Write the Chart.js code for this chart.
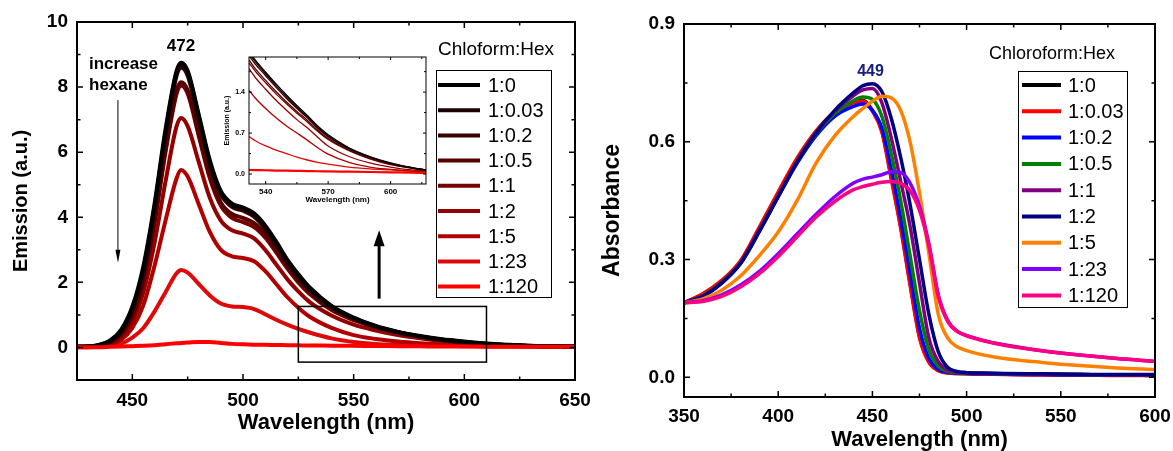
<!DOCTYPE html>
<html>
<head>
<meta charset="utf-8">
<script src="https://cdn.jsdelivr.net/npm/chart.js@4.4.1/dist/chart.umd.min.js"></script>
<style>
  body { margin: 0; background: #fff; width: 1173px; height: 451px; overflow: hidden; position: relative; }
  .box { position: absolute; }
</style>
</head>
<body>
<div class="box" style="left:0;top:0;width:600px;height:451px"><canvas id="em"></canvas></div>
<div class="box" style="left:590px;top:0;width:583px;height:480px"><canvas id="abs"></canvas></div>
<div class="box" style="left:215px;top:50px;width:220px;height:165px"><canvas id="inset"></canvas></div>
<script>
const FONT = '"Liberation Sans", Arial, sans-serif';

const ratios = ['1:0', '1:0.03', '1:0.2', '1:0.5', '1:1', '1:2', '1:5', '1:23', '1:120'];

// emission spectra (left panel)
const emWave = [425,430,435,440,445,450,455,460,465,470,472,475,480,485,490,495,500,505,510,515,520,525,530,540,550,560,570,580,590,600,610,620,635,650];
const em0   = [0.02,0.03,0.08,0.22,0.55,1.25,2.5,4.4,6.7,8.5,8.75,8.5,7.15,5.75,4.8,4.42,4.3,4.12,3.75,3.25,2.7,2.25,1.85,1.28,0.92,0.66,0.48,0.35,0.25,0.18,0.12,0.08,0.04,0.02];
const em003 = [0.02,0.03,0.07,0.2,0.5,1.2,2.4,4.3,6.6,8.45,8.68,8.45,7.1,5.7,4.75,4.37,4.25,4.07,3.7,3.2,2.65,2.2,1.8,1.25,0.9,0.65,0.47,0.34,0.24,0.17,0.11,0.07,0.04,0.02];
const em02  = [0.02,0.03,0.07,0.19,0.48,1.15,2.3,4.2,6.5,8.35,8.6,8.35,7.0,5.6,4.7,4.32,4.2,4.02,3.65,3.15,2.6,2.15,1.77,1.23,0.89,0.64,0.47,0.34,0.24,0.17,0.11,0.07,0.04,0.02];
const em05  = [0.02,0.03,0.06,0.16,0.42,1.0,2.1,3.9,6.1,7.9,8.15,7.9,6.6,5.3,4.45,4.1,3.98,3.82,3.48,3.0,2.5,2.07,1.7,1.18,0.86,0.63,0.46,0.33,0.23,0.16,0.11,0.07,0.04,0.02];
const em1   = [0.02,0.03,0.06,0.15,0.4,0.95,2.0,3.8,6.0,7.8,8.05,7.8,6.5,5.2,4.35,3.98,3.85,3.7,3.38,2.92,2.43,2.0,1.65,1.15,0.84,0.62,0.45,0.33,0.23,0.16,0.11,0.07,0.04,0.02];
const em2   = [0.02,0.02,0.05,0.12,0.32,0.8,1.7,3.2,5.1,6.8,7.05,6.8,5.7,4.6,3.9,3.6,3.5,3.35,3.0,2.55,2.1,1.72,1.4,0.98,0.7,0.52,0.38,0.28,0.2,0.14,0.1,0.07,0.04,0.02];
const em5   = [0.01,0.02,0.04,0.09,0.24,0.6,1.3,2.5,3.9,5.2,5.45,5.25,4.4,3.55,3.0,2.8,2.75,2.65,2.35,1.95,1.55,1.22,0.95,0.6,0.38,0.26,0.18,0.13,0.1,0.08,0.06,0.05,0.03,0.02];
const em23  = [0.01,0.01,0.02,0.05,0.12,0.3,0.6,1.1,1.7,2.28,2.38,2.3,1.95,1.6,1.35,1.26,1.24,1.18,1.02,0.85,0.7,0.57,0.46,0.28,0.17,0.11,0.08,0.06,0.05,0.04,0.03,0.03,0.02,0.02];
const em120 = [0.01,0.01,0.01,0.02,0.03,0.04,0.05,0.07,0.1,0.13,0.14,0.15,0.17,0.17,0.14,0.11,0.095,0.085,0.08,0.075,0.07,0.065,0.06,0.055,0.05,0.045,0.04,0.035,0.03,0.03,0.025,0.02,0.02,0.02];

// inset (zoom of the 530-617 nm tail)
const inWave = [532,535,540,545,550,555,560,565,570,580,590,600,610,617];
const in0   = [2.1,1.95,1.74,1.54,1.35,1.17,1.0,0.82,0.67,0.45,0.3,0.19,0.11,0.07];
const in003 = [2.06,1.92,1.71,1.51,1.32,1.14,0.98,0.8,0.65,0.44,0.29,0.18,0.11,0.07];
const in02  = [2.02,1.88,1.68,1.48,1.29,1.12,0.96,0.78,0.64,0.43,0.29,0.18,0.11,0.07];
const in05  = [1.95,1.8,1.6,1.41,1.23,1.07,0.92,0.75,0.61,0.41,0.27,0.17,0.1,0.06];
const in1   = [1.9,1.76,1.56,1.37,1.2,1.04,0.89,0.73,0.59,0.4,0.26,0.16,0.1,0.06];
const in2   = [1.8,1.65,1.45,1.26,1.09,0.93,0.79,0.63,0.48,0.3,0.19,0.12,0.07,0.05];
const in5   = [1.43,1.3,1.12,0.96,0.82,0.7,0.58,0.45,0.34,0.2,0.12,0.08,0.05,0.04];
const in23  = [0.64,0.57,0.48,0.41,0.35,0.29,0.24,0.2,0.17,0.12,0.09,0.07,0.05,0.04];
const in120 = [0.07,0.068,0.065,0.06,0.058,0.055,0.05,0.048,0.045,0.04,0.035,0.03,0.025,0.02];

// absorbance (right panel)
const abWave = [350,360,370,380,390,400,410,420,430,440,445,450,455,460,465,470,475,480,485,490,495,500,510,520,540,560,580,600];
const ab0   = [0.19,0.212,0.245,0.295,0.38,0.47,0.555,0.625,0.675,0.7,0.705,0.68,0.63,0.51,0.385,0.24,0.105,0.04,0.018,0.012,0.01,0.01,0.009,0.008,0.007,0.006,0.006,0.005];
const ab003 = [0.19,0.213,0.247,0.297,0.383,0.472,0.558,0.627,0.676,0.7,0.704,0.678,0.625,0.505,0.38,0.235,0.1,0.038,0.017,0.011,0.01,0.009,0.008,0.007,0.006,0.006,0.005,0.005];
const ab02  = [0.19,0.208,0.24,0.29,0.372,0.46,0.545,0.615,0.665,0.69,0.696,0.68,0.635,0.53,0.405,0.265,0.125,0.048,0.02,0.013,0.011,0.01,0.009,0.008,0.007,0.006,0.006,0.005];
const ab05  = [0.19,0.208,0.242,0.292,0.375,0.462,0.548,0.62,0.672,0.705,0.714,0.708,0.665,0.57,0.45,0.31,0.17,0.07,0.028,0.015,0.012,0.011,0.01,0.009,0.008,0.007,0.006,0.006];
const ab1   = [0.19,0.207,0.241,0.292,0.375,0.462,0.55,0.623,0.678,0.718,0.732,0.736,0.7,0.61,0.5,0.385,0.24,0.1,0.04,0.018,0.013,0.012,0.01,0.009,0.008,0.007,0.006,0.006];
const ab2   = [0.19,0.206,0.24,0.29,0.372,0.46,0.548,0.622,0.68,0.725,0.743,0.748,0.728,0.66,0.56,0.44,0.3,0.16,0.065,0.025,0.015,0.012,0.011,0.01,0.009,0.008,0.007,0.007];
const ab5   = [0.19,0.2,0.222,0.258,0.31,0.37,0.45,0.545,0.615,0.665,0.685,0.703,0.716,0.712,0.68,0.6,0.47,0.315,0.16,0.1,0.078,0.068,0.056,0.048,0.038,0.03,0.024,0.02];
const ab23  = [0.19,0.195,0.21,0.235,0.27,0.315,0.365,0.415,0.46,0.495,0.505,0.51,0.516,0.524,0.522,0.495,0.435,0.34,0.21,0.145,0.118,0.107,0.093,0.083,0.068,0.057,0.048,0.041];
const ab120 = [0.19,0.193,0.206,0.23,0.264,0.308,0.358,0.408,0.448,0.478,0.486,0.492,0.497,0.499,0.494,0.475,0.425,0.335,0.205,0.142,0.117,0.106,0.092,0.082,0.068,0.057,0.048,0.041];

const emColors = ['#000000','#1c0000','#3a0000','#580000','#760000','#930000','#b00000','#dd0a0a','#ff0000'];
const abColors = ['#000000','#ff0000','#0000ff','#008000','#800080','#000080','#ff8000','#8000ff','#ff0080'];

// drawing order (lower = drawn later, on top)
const emOrder = [1,2,3,4,5,6,7,8,0];
const abOrder = [9,8,7,6,5,4,3,2,1];

// tick values
const emXTicks = [450,500,550,600,650];
const emYTicks = [0,2,4,6,8,10];
const inXTicks = [540,570,600];
const inYTicks = [0,0.7,1.4];
const abXTicks = [350,400,450,500,550,600];
const abYTicks = [0,0.3,0.6,0.9];

function make(label, xs, ys, color, width, order){
  return {
    label: label,
    data: xs.map((x, k) => ({x: x, y: ys[k]})),
    borderColor: color,
    backgroundColor: color,
    borderWidth: width,
    pointRadius: 0,
    fill: false,
    order: order,
    cubicInterpolationMode: 'monotone'
  };
}

function axis(min, max, ticks, o){
  return {
    type: 'linear', min: min, max: max,
    grid: {display: false, drawTicks: false},
    border: {display: false},
    afterBuildTicks: s => { s.ticks = ticks.map(v => ({value: v})); },
    afterFit: s => {
      if (o.height != null) { s.height = o.height; s.paddingLeft = 0; s.paddingRight = 0; }
      if (o.width != null) { s.width = o.width; s.paddingTop = 0; s.paddingBottom = 0; }
    },
    ticks: {
      color: '#000', padding: o.pad, autoSkip: false, maxRotation: 0,
      font: {family: FONT, size: o.size, weight: 'bold'},
      callback: o.fmt || (v => v)
    },
    title: {
      display: true, text: o.title, color: '#000', padding: o.tpad,
      font: {family: FONT, size: o.tsize, weight: 'bold', lineHeight: 1.2}
    }
  };
}

// box around the plot area with inward ticks, like the original plotting program
const frame = {
  id: 'frame',
  afterDraw(chart, args, o){
    const {ctx, chartArea: a, scales: {x, y}} = chart;
    ctx.save();
    ctx.strokeStyle = '#000';
    ctx.lineWidth = o.lw;
    ctx.strokeRect(a.left, a.top, a.right - a.left, a.bottom - a.top);
    ctx.lineWidth = o.tw;
    ctx.beginPath();
    const xt = (v, len) => {
      const p = x.getPixelForValue(v);
      ctx.moveTo(p, a.bottom); ctx.lineTo(p, a.bottom - len);
      ctx.moveTo(p, a.top); ctx.lineTo(p, a.top + len);
    };
    const yt = (v, len) => {
      const p = y.getPixelForValue(v);
      ctx.moveTo(a.left, p); ctx.lineTo(a.left + len, p);
      ctx.moveTo(a.right, p); ctx.lineTo(a.right - len, p);
    };
    o.xMajor.forEach(v => xt(v, o.major));
    o.xMinor.forEach(v => xt(v, o.minor));
    o.yMajor.forEach(v => yt(v, o.major));
    o.yMinor.forEach(v => yt(v, o.minor));
    ctx.stroke();
    ctx.restore();
  }
};

// boxed legend with its heading above it
const key = {
  id: 'key',
  afterDraw(chart, args, o){
    if (!o.title) return;
    const ctx = chart.ctx;
    ctx.save();
    ctx.fillStyle = '#000';
    ctx.textAlign = 'center';
    ctx.textBaseline = 'middle';
    ctx.font = `${o.titleSize}px ${FONT}`;
    ctx.fillText(o.title, o.titleX, o.titleY);
    ctx.strokeStyle = '#000';
    ctx.lineWidth = 1;
    ctx.strokeRect(o.x + 0.5, o.y + 0.5, o.w, o.h);
    ctx.font = `${o.size}px ${FONT}`;
    ctx.textAlign = 'left';
    chart.data.datasets.forEach((ds, i) => {
      const yy = o.y + o.first + i * o.step;
      ctx.strokeStyle = ds.borderColor;
      ctx.lineWidth = 4;
      ctx.beginPath();
      ctx.moveTo(o.x + o.l0, yy);
      ctx.lineTo(o.x + o.l1, yy);
      ctx.stroke();
      ctx.fillStyle = '#000';
      ctx.fillText(ds.label, o.x + o.tx, yy + 1);
    });
    ctx.restore();
  }
};

function arrow(ctx, x, y0, y1, lw, hw, hl){
  const dir = Math.sign(y1 - y0);
  ctx.lineWidth = lw;
  ctx.beginPath();
  ctx.moveTo(x, y0);
  ctx.lineTo(x, y1 - dir * hl * 0.7);
  ctx.stroke();
  ctx.beginPath();
  ctx.moveTo(x, y1);
  ctx.lineTo(x - hw / 2, y1 - dir * hl);
  ctx.lineTo(x + hw / 2, y1 - dir * hl);
  ctx.closePath();
  ctx.fill();
}

const emNotes = {
  id: 'emNotes',
  afterDraw(chart){
    const {ctx, scales: {x, y}} = chart;
    ctx.save();
    ctx.fillStyle = '#000';
    ctx.strokeStyle = '#000';
    ctx.font = `bold 17px ${FONT}`;
    ctx.textAlign = 'center';
    ctx.textBaseline = 'middle';
    ctx.fillText('472', x.getPixelForValue(472), y.getPixelForValue(9.25));
    ctx.textAlign = 'left';
    ctx.fillText('increase', 89, 64);
    ctx.fillText('hexane', 89, 85);
    arrow(ctx, x.getPixelForValue(443.5), y.getPixelForValue(7.6), y.getPixelForValue(2.6), 1, 5, 13);
    arrow(ctx, x.getPixelForValue(561.5), y.getPixelForValue(1.5), y.getPixelForValue(3.6), 3, 11, 16);
    const x0 = x.getPixelForValue(525), x1 = x.getPixelForValue(610);
    const y0 = y.getPixelForValue(1.26), y1 = y.getPixelForValue(-0.45);
    ctx.lineWidth = 1.5;
    ctx.strokeRect(x0, y0, x1 - x0, y1 - y0);
    ctx.restore();
  }
};

const abNotes = {
  id: 'abNotes',
  afterDraw(chart){
    const {ctx, scales: {x, y}} = chart;
    ctx.save();
    ctx.fillStyle = '#14207a';
    ctx.font = `bold 16px ${FONT}`;
    ctx.textAlign = 'center';
    ctx.textBaseline = 'middle';
    ctx.fillText('449', x.getPixelForValue(449), y.getPixelForValue(0.78));
    ctx.restore();
  }
};

const common = {
  responsive: true,
  maintainAspectRatio: false,
  animation: false,
  events: [],
};

const emSets = [em0, em003, em02, em05, em1, em2, em5, em23, em120];
const inSets = [in0, in003, in02, in05, in1, in2, in5, in23, in120];
const abSets = [ab0, ab003, ab02, ab05, ab1, ab2, ab5, ab23, ab120];

new Chart(document.getElementById('em'), {
  type: 'line',
  data: {datasets: emSets.map((d, i) => make(ratios[i], emWave, d, emColors[i], 4, emOrder[i]))},
  options: Object.assign({}, common, {
    layout: {padding: {left: 0, right: 25, top: 22, bottom: 0}},
    scales: {
      x: axis(425, 650, emXTicks, {height: 71, pad: 9, size: 19, title: 'Wavelength (nm)', tsize: 22, tpad: {top: 0, bottom: 15}}),
      y: axis(-1, 10, emYTicks, {width: 77, pad: 9, size: 19, title: 'Emission (a.u.)', tsize: 20, tpad: {top: 9, bottom: 0}})
    },
    plugins: {
      legend: {display: false},
      tooltip: {enabled: false},
      frame: {lw: 2, tw: 1.5, major: 6, minor: 3.5,
        xMajor: [450,500,550,600], xMinor: [475,525,575,625],
        yMajor: [0,2,4,6,8], yMinor: [1,3,5,7,9]},
      key: {title: 'Chloform:Hex', titleSize: 19, titleX: 496, titleY: 50,
        x: 436, y: 70, w: 115, h: 227, first: 15, step: 25.2, l0: 2, l1: 44, tx: 52, size: 20}
    }
  }),
  plugins: [frame, key, emNotes]
});

new Chart(document.getElementById('inset'), {
  type: 'line',
  data: {datasets: inSets.map((d, i) => make(ratios[i], inWave, d, emColors[i], i === 8 ? 2.2 : 1.3, emOrder[i]))},
  options: Object.assign({}, common, {
    layout: {padding: {left: 0, right: 9, top: 7, bottom: 0}},
    scales: {
      x: axis(532, 617, inXTicks, {height: 31, pad: 3, size: 8, title: 'Wavelength (nm)', tsize: 8, tpad: {top: 0, bottom: 10}}),
      y: axis(-0.17, 2.0, inYTicks, {width: 34, pad: 4, size: 7, fmt: v => v.toFixed(1), title: 'Emission (a.u.)', tsize: 7, tpad: {top: 8, bottom: 0}})
    },
    plugins: {
      legend: {display: false},
      tooltip: {enabled: false},
      frame: {lw: 1, tw: 1, major: 3, minor: 2,
        xMajor: [540,570,600], xMinor: [555,585,615],
        yMajor: [0,0.7,1.4], yMinor: [0.35,1.05,1.75]},
      key: {}
    }
  }),
  plugins: [frame, key]
});

new Chart(document.getElementById('abs'), {
  type: 'line',
  data: {datasets: abSets.map((d, i) => make(ratios[i], abWave, d, abColors[i], 3.5, abOrder[i]))},
  options: Object.assign({}, common, {
    layout: {padding: {left: 0, right: 18, top: 24, bottom: 0}},
    scales: {
      x: axis(350, 600, abXTicks, {height: 83, pad: 8, size: 19, title: 'Wavelength (nm)', tsize: 22, tpad: {top: 0, bottom: 27}}),
      y: axis(-0.05, 0.9, abYTicks, {width: 94, pad: 9, size: 19, fmt: v => v.toFixed(1), title: 'Absorbance', tsize: 23, tpad: {top: 9, bottom: 0}})
    },
    plugins: {
      legend: {display: false},
      tooltip: {enabled: false},
      frame: {lw: 2, tw: 1.5, major: 6, minor: 3.5,
        xMajor: [400,450,500,550], xMinor: [375,425,475,525,575],
        yMajor: [0,0.3,0.6], yMinor: [0.15,0.45,0.75]},
      key: {title: 'Chloroform:Hex', titleSize: 18, titleX: 462, titleY: 54,
        x: 428, y: 71, w: 109, h: 236, first: 14, step: 26.3, l0: 4, l1: 43, tx: 50, size: 20}
    }
  }),
  plugins: [frame, key, abNotes]
});
</script>
</body>
</html>
